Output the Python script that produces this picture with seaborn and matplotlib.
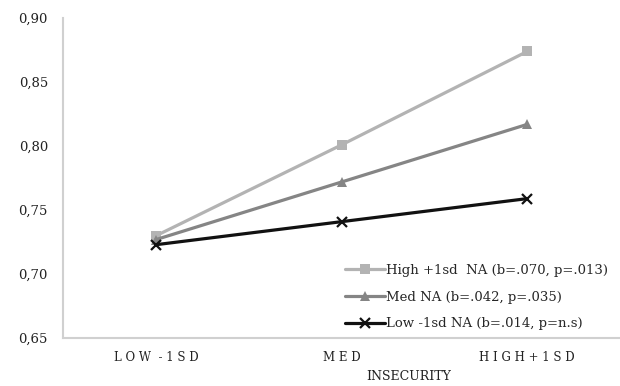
import matplotlib
matplotlib.use("Agg")
import matplotlib.pyplot as plt
import seaborn as sns
import pandas as pd
from matplotlib.ticker import FuncFormatter

# Datos
categorias = ["LOW -1SD", "MED", "HIGH+1SD"]
etiquetas_x = ["L O W  - 1 S D", "M E D", "H I G H + 1 S D"]
series = [
    "High +1sd  NA (b=.070, p=.013)",
    "Med NA (b=.042, p=.035)",
    "Low -1sd NA (b=.014, p=n.s)",
]
valores_high = [0.730, 0.801, 0.874]
valores_med = [0.727, 0.772, 0.817]
valores_low = [0.723, 0.741, 0.759]

colores = ["#b3b3b3", "#858585", "#111111"]
marcadores = ["s", "^", "x"]

sns.set_style("white")
plt.rcParams["font.family"] = ["DejaVu Serif", "Liberation Serif"]

fig = plt.figure(figsize=(6.2, 3.86), dpi=100)
ax = fig.add_axes([0.102, 0.124, 0.898, 0.829])

df = pd.DataFrame({
    "x": list(range(len(categorias))) * 3,
    "y": valores_high + valores_med + valores_low,
    "serie": [series[0]] * 3 + [series[1]] * 3 + [series[2]] * 3,
})

for nombre, color, marca in zip(series, colores, marcadores):
    sub = df[df["serie"] == nombre]
    sns.lineplot(
        data=sub, x="x", y="y", ax=ax, color=color, linewidth=2.3,
        marker=marca, markersize=7.5 if marca != "x" else 7,
        markeredgewidth=1.6 if marca == "x" else 0,
        markeredgecolor=color, label=nombre,
    )

ax.set_xlim(-0.5, 2.5)
ax.set_ylim(0.65, 0.90)
ax.set_yticks([0.65, 0.70, 0.75, 0.80, 0.85, 0.90])
ax.yaxis.set_major_formatter(FuncFormatter(lambda v, p: f"{v:.2f}".replace(".", ",")))
ax.set_xticks(range(len(categorias)))
ax.set_xticklabels(etiquetas_x)
ax.tick_params(axis="both", length=0, colors="#222222")
ax.tick_params(axis="x", pad=9, labelsize=8.5)
ax.tick_params(axis="y", pad=11, labelsize=9.5)

ax.set_xlabel("INSECURITY", fontsize=9, color="#222222")
ax.xaxis.set_label_coords(0.62, -0.119)
ax.xaxis.label.set_verticalalignment("center")
ax.set_ylabel("")

for lado in ["top", "right"]:
    ax.spines[lado].set_visible(False)
for lado in ["left", "bottom"]:
    ax.spines[lado].set_color("#d0d0d0")
    ax.spines[lado].set_linewidth(1.5)

ax.legend(loc="lower right", bbox_to_anchor=(0.995, -0.005), frameon=False,
          fontsize=9.5, handlelength=3.0, handletextpad=0.1,
          labelspacing=1.05, borderaxespad=0.3)

fig.savefig("out.png", dpi=100)
